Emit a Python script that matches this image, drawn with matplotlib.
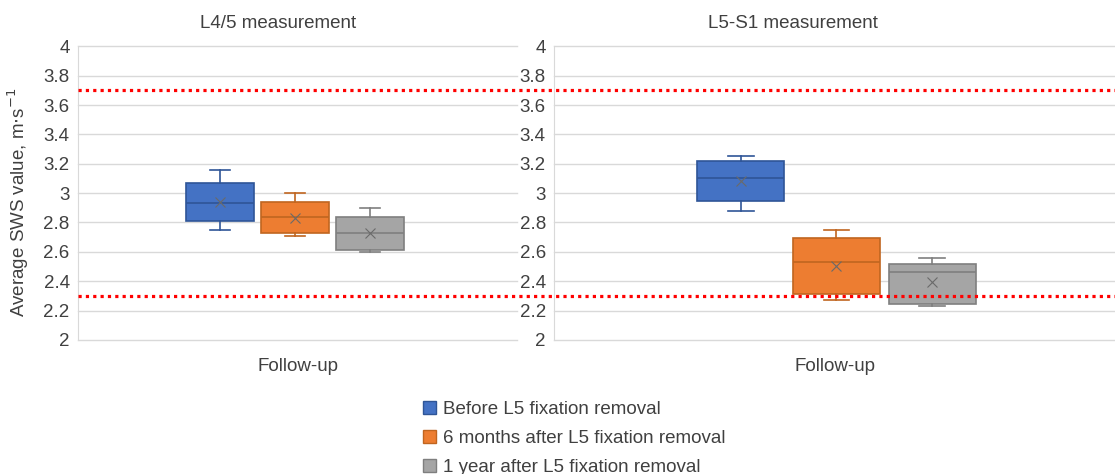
import matplotlib
matplotlib.use('Agg')
import matplotlib.pyplot as plt
import matplotlib.transforms as mtransforms
from matplotlib.patches import Patch

plt.rcParams['font.family'] = ['Liberation Sans', 'DejaVu Sans']

groups = ['Before L5 fixation removal',
          '6 months after L5 fixation removal',
          '1 year after L5 fixation removal']
titles = ['L4/5 measurement', 'L5-S1 measurement']

# L4/5 boxes
l45_whislo = [2.75, 2.71, 2.60]
l45_q1 = [2.81, 2.73, 2.615]
l45_med = [2.93, 2.835, 2.73]
l45_mean = [2.94, 2.83, 2.725]
l45_q3 = [3.07, 2.94, 2.84]
l45_whishi = [3.16, 3.00, 2.90]

# L5-S1 boxes
l5s1_whislo = [2.88, 2.27, 2.23]
l5s1_q1 = [2.945, 2.315, 2.245]
l5s1_med = [3.105, 2.53, 2.46]
l5s1_mean = [3.085, 2.505, 2.395]
l5s1_q3 = [3.22, 2.695, 2.52]
l5s1_whishi = [3.255, 2.75, 2.56]

ref_lines = [3.7, 2.3]

face = ['#4472C4', '#ED7D31', '#A5A5A5']
edge = ['#2F5597', '#C0651F', '#7F7F7F']
txt = '#404040'


def make_stats(lo, q1, med, mean, q3, hi):
    out = []
    for i in range(len(lo)):
        out.append(dict(whislo=lo[i], q1=q1[i], med=med[i], mean=mean[i],
                        q3=q3[i], whishi=hi[i], fliers=[]))
    return out


panels = [make_stats(l45_whislo, l45_q1, l45_med, l45_mean, l45_q3, l45_whishi),
          make_stats(l5s1_whislo, l5s1_q1, l5s1_med, l5s1_mean, l5s1_q3, l5s1_whishi)]

fig = plt.figure(figsize=(11.15, 4.74), dpi=100)
ax1 = fig.add_axes([0.070, 0.283, 0.394, 0.619])
ax2 = fig.add_axes([0.497, 0.283, 0.503, 0.619])
axes = [ax1, ax2]
x_shift = [0.04, -0.02]

positions = [-1, 0, 1]
for ax, stats, dx in zip(axes, panels, x_shift):
    for i, st in enumerate(stats):
        ax.bxp([st], positions=[positions[i]], widths=0.91, capwidths=0.27,
               patch_artist=True, showmeans=True,
               boxprops=dict(facecolor=face[i], edgecolor=edge[i], lw=1.2),
               medianprops=dict(color=edge[i], lw=1.2),
               whiskerprops=dict(color=edge[i], lw=1.2),
               capprops=dict(color=edge[i], lw=1.2),
               meanprops=dict(marker='x', markeredgecolor='#6A6A6A',
                              markersize=7, markeredgewidth=0.8))
    ax.set_xlim(-2.93 + dx, 2.93 + dx)
    ax.set_ylim(2, 4)
    ax.set_yticks([2 + 0.2 * k for k in range(11)])
    ax.set_yticklabels(['%g' % round(2 + 0.2 * k, 1) for k in range(11)])
    ax.set_xticks([dx])
    ax.set_xticklabels(['Follow-up'])
    ax.tick_params(axis='both', length=0, labelsize=13.5, colors=txt)
    ax.tick_params(axis='x', pad=13)
    ax.tick_params(axis='y', pad=6)
    ax.grid(axis='y', color='#D9D9D9', lw=1)
    for gl in ax.get_ygridlines():
        gl.set_clip_on(False)
    ax.set_axisbelow(True)
    for s in ['top', 'right', 'bottom']:
        ax.spines[s].set_visible(False)
    ax.spines['left'].set_color('#D9D9D9')

# red reference lines spanning both panels
trans = mtransforms.blended_transform_factory(fig.transFigure, ax2.transData)
for y in ref_lines:
    ax2.plot([0.070, 1.0], [y, y], transform=trans, clip_on=False,
             color='#FF0000', lw=2.3, dashes=(1, 1.3), zorder=10)

fig.text(0.2498, 0.951, titles[0], ha='center', va='center', fontsize=13.5, color=txt)
fig.text(0.711, 0.951, titles[1], ha='center', va='center', fontsize=13.5, color=txt)
fig.text(0.016, 0.574, 'Average SWS value, m$\\cdot$s$^{-1}$', rotation=90,
         ha='center', va='center', fontsize=13.5, color=txt)

handles = [Patch(facecolor=face[i], edgecolor=edge[i]) for i in range(3)]
fig.legend(handles, groups, loc='upper left', bbox_to_anchor=(0.379, 0.154),
           frameon=False, fontsize=13.5, handlelength=0.7, handleheight=0.7,
           handletextpad=0.4, labelspacing=0.63, borderpad=0, borderaxespad=0,
           labelcolor=txt)

fig.savefig('out.png', dpi=100)
